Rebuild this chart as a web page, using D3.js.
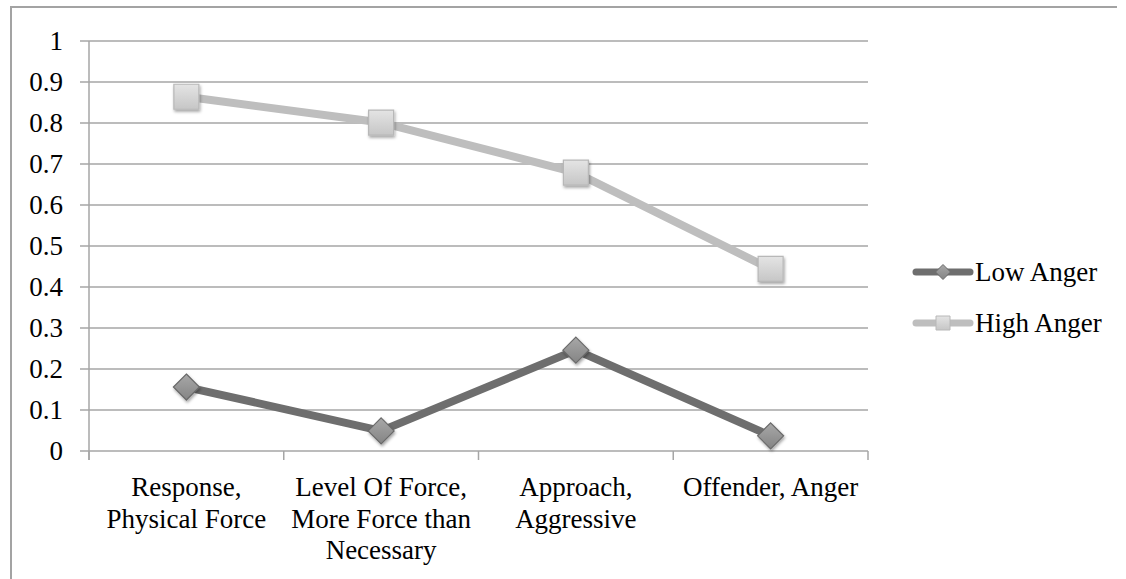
<!DOCTYPE html>
<html>
<head>
<meta charset="utf-8">
<script src="https://cdn.jsdelivr.net/npm/d3@7"></script>
<style>
  body { margin: 0; background: #fff; }
  text { font-family: "Liberation Serif", "DejaVu Serif", serif; fill: #000; }
</style>
</head>
<body>
<div id="chart"></div>
<script>
var categories = [
    ['Response,', 'Physical Force'],
    ['Level Of Force,', 'More Force than', 'Necessary'],
    ['Approach,', 'Aggressive'],
    ['Offender, Anger']
];
var lowAnger = [0.156, 0.049, 0.246, 0.037];
var highAnger = [0.864, 0.801, 0.679, 0.444];
var yTicks = [0, 0.1, 0.2, 0.3, 0.4, 0.5, 0.6, 0.7, 0.8, 0.9, 1];
var seriesNames = ['Low Anger', 'High Anger'];

var width = 1126, height = 579;
var fontSize = '27px';
var svg = d3.select('#chart').append('svg')
    .attr('width', width)
    .attr('height', height);

var defs = svg.append('defs');
var shadow = defs.append('filter').attr('id', 'shadow')
    .attr('x', '-50%').attr('y', '-50%').attr('width', '200%').attr('height', '200%');
shadow.append('feDropShadow')
    .attr('dx', 1).attr('dy', 2).attr('stdDeviation', 1.6)
    .attr('flood-color', '#000').attr('flood-opacity', 0.35);

var gLight = defs.append('linearGradient').attr('id', 'gLight')
    .attr('x1', 0).attr('y1', 0).attr('x2', 0).attr('y2', 1);
gLight.append('stop').attr('offset', '0%').attr('stop-color', '#e4e4e4');
gLight.append('stop').attr('offset', '100%').attr('stop-color', '#c6c6c6');
var gDark = defs.append('linearGradient').attr('id', 'gDark')
    .attr('x1', 0).attr('y1', 0).attr('x2', 0).attr('y2', 1);
gDark.append('stop').attr('offset', '0%').attr('stop-color', '#a8a8a8');
gDark.append('stop').attr('offset', '100%').attr('stop-color', '#848484');

// chart frame (only top and left edges show)
svg.append('path')
    .attr('d', 'M11,579 L11,7 L1117,7')
    .attr('fill', 'none')
    .attr('stroke', '#a3a3a3')
    .attr('stroke-width', 2);

var x = d3.scaleBand()
    .domain(d3.range(categories.length))
    .range([89, 868])
    .padding(0);

var y = d3.scaleLinear()
    .domain([0, 1])
    .range([451, 41]);

// gridlines
svg.append('g')
    .selectAll('line')
    .data(yTicks)
    .enter()
    .append('line')
    .attr('x1', 80)
    .attr('x2', 868)
    .attr('y1', function (d) { return y(d); })
    .attr('y2', function (d) { return y(d); })
    .attr('stroke', '#a6a6a6')
    .attr('stroke-width', 1.5);

// y axis
svg.append('line')
    .attr('x1', 89).attr('x2', 89)
    .attr('y1', y(1)).attr('y2', y(0) + 9)
    .attr('stroke', '#a6a6a6').attr('stroke-width', 1.5);

svg.append('g')
    .selectAll('text')
    .data(yTicks)
    .enter()
    .append('text')
    .attr('x', 63)
    .attr('y', function (d) { return y(d) + 9; })
    .attr('text-anchor', 'end')
    .style('font-size', fontSize)
    .text(function (d) { return d3.format('')(d); });

// x ticks
var xTickPos = d3.range(categories.length + 1).map(function (i) {
    return i < categories.length ? x(i) : x(i - 1) + x.bandwidth();
});
svg.append('g')
    .selectAll('line')
    .data(xTickPos)
    .enter()
    .append('line')
    .attr('x1', function (d) { return d; })
    .attr('x2', function (d) { return d; })
    .attr('y1', y(0))
    .attr('y2', y(0) + 9)
    .attr('stroke', '#a6a6a6')
    .attr('stroke-width', 1.5);

// category labels
var labels = svg.append('g')
    .selectAll('text')
    .data(categories)
    .enter()
    .append('text')
    .attr('text-anchor', 'middle')
    .style('font-size', fontSize);
labels.each(function (lines, i) {
    d3.select(this).selectAll('tspan')
        .data(lines)
        .enter()
        .append('tspan')
        .attr('x', x(i) + x.bandwidth() / 2)
        .attr('y', function (d, j) { return 496 + j * 31.5; })
        .text(function (d) { return d; });
});

var line = d3.line()
    .x(function (d, i) { return x(i) + x.bandwidth() / 2; })
    .y(function (d) { return y(d); });

var series = [
    { name: seriesNames[0], values: lowAnger, stroke: '#6e6e6e', fill: 'url(#gDark)', edge: '#6a6a6a', shape: 'diamond' },
    { name: seriesNames[1], values: highAnger, stroke: '#bebebe', fill: 'url(#gLight)', edge: '#b8b8b8', shape: 'square' }
];

function markerPath(shape, s) {
    if (shape === 'diamond') {
        return 'M0,' + (-s) + 'L' + s + ',0L0,' + s + 'L' + (-s) + ',0Z';
    }
    return 'M' + (-s) + ',' + (-s) + 'H' + s + 'V' + s + 'H' + (-s) + 'Z';
}

series.forEach(function (sr) {
    var g = svg.append('g');
    g.append('path')
        .attr('fill', 'none')
        .attr('stroke', sr.stroke)
        .attr('stroke-width', 8)
        .attr('stroke-linejoin', 'round')
        .attr('d', line(sr.values));
    g.selectAll('path.mk')
        .data(sr.values)
        .enter()
        .append('path')
        .attr('class', 'mk')
        .attr('transform', function (d, i) {
            return 'translate(' + (x(i) + x.bandwidth() / 2) + ',' + y(d) + ')';
        })
        .attr('d', markerPath(sr.shape, sr.shape === 'diamond' ? 13 : 12.5))
        .attr('fill', sr.fill)
        .attr('stroke', sr.edge)
        .attr('stroke-width', 1.2)
        .attr('filter', 'url(#shadow)');
});

// legend
var legend = svg.append('g')
    .selectAll('g')
    .data(series)
    .enter()
    .append('g')
    .attr('transform', function (d, i) { return 'translate(913,' + (272 + i * 51) + ')'; });
legend.append('line')
    .attr('x1', 3).attr('x2', 57)
    .attr('y1', 0).attr('y2', 0)
    .attr('stroke', function (d) { return d.stroke; })
    .attr('stroke-width', 7)
    .attr('stroke-linecap', 'round');
legend.append('path')
    .attr('transform', 'translate(30,0)')
    .attr('d', function (d) { return markerPath(d.shape, d.shape === 'diamond' ? 7.5 : 7); })
    .attr('fill', function (d) { return d.fill; })
    .attr('stroke', function (d) { return d.edge; })
    .attr('stroke-width', 1);
legend.append('text')
    .attr('x', 62)
    .attr('y', 9)
    .style('font-size', fontSize)
    .text(function (d) { return d.name; });
</script>
</body>
</html>
